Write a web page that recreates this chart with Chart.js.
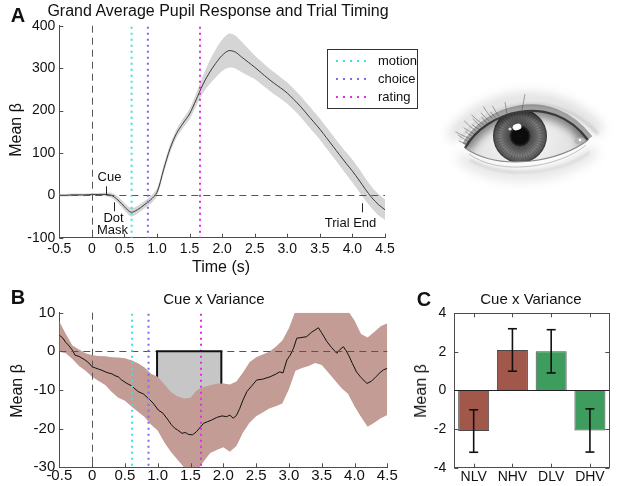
<!DOCTYPE html>
<html lang="en">
<head>
<meta charset="UTF-8" />
<title>Grand Average Pupil Response</title>
<script src="https://cdn.jsdelivr.net/npm/chart.js"></script>
<style>
  * { margin: 0; padding: 0; box-sizing: border-box; }
  body { background: #fff; font-family: 'Liberation Sans', Arial, sans-serif; color: #111; }
  #fig { position: relative; width: 617px; height: 486px; overflow: hidden; }
  canvas { position: absolute; }
  .t { position: absolute; transform: translate(-50%, -50%); white-space: nowrap; line-height: 1; }
  .rot { transform: translate(-50%, -50%) rotate(-90deg); }
  .tag { position: absolute; transform: translate(-50%, -50%); font-weight: bold; font-size: 20px; line-height: 1; }
</style>
</head>
<body>
<div id="fig">
  <canvas id="chartA" width="430" height="280" style="left:0;top:0"></canvas>
  <canvas id="chartB" width="400" height="206" style="left:0;top:280px"></canvas>
  <canvas id="chartC" width="217" height="206" style="left:400px;top:280px"></canvas>
  <canvas id="eye" width="187" height="170" style="left:430px;top:50px"></canvas>

  <div class="tag" style="left:18px;top:15px">A</div>
  <div class="tag" style="left:18px;top:297px">B</div>
  <div class="tag" style="left:424px;top:299px">C</div>

  <div class="t" style="left:218px;top:11px;font-size:16px">Grand Average Pupil Response and Trial Timing</div>
  <div class="t" style="left:214px;top:298px;font-size:15px">Cue x Variance</div>
  <div class="t" style="left:531px;top:298px;font-size:15px">Cue x Variance</div>

  <div class="t rot" style="left:16px;top:130px;font-size:16px">Mean β</div>
  <div class="t rot" style="left:17px;top:391px;font-size:16px">Mean β</div>
  <div class="t rot" style="left:421px;top:391px;font-size:16px">Mean β</div>
  <div class="t" style="left:221px;top:267px;font-size:16px">Time (s)</div>
</div>

<script>
  // ---- panel A: grand average pupil response ----
  const timeA = [-0.5, -0.4, -0.3, -0.2, -0.1, 0, 0.1, 0.2, 0.3, 0.4, 0.5, 0.6, 0.7, 0.8, 0.9, 1.0, 1.1, 1.2, 1.3, 1.4,
                 1.5, 1.6, 1.7, 1.8, 1.9, 2.0, 2.1, 2.2, 2.3, 2.4, 2.5, 2.6, 2.7, 2.8, 2.9, 3.0, 3.1, 3.2, 3.3, 3.4,
                 3.5, 3.6, 3.7, 3.8, 3.9, 4.0, 4.1, 4.2, 4.3, 4.4, 4.5];
  const meanA = [0, 0, 1, 1, 1, 2, 2, 2, 0, -11, -27, -40, -34, -23, -11, 7, 60, 110, 146, 170,
                 192, 225, 260, 288, 311, 330, 341, 338, 326, 314, 302, 289, 276, 264, 253, 241, 226, 210, 192, 174,
                 156, 136, 116, 96, 76, 57, 36, 14, -6, -22, -34];
  const semA = [3, 3, 3, 3, 3, 3, 3, 4, 6, 8, 9, 10, 9, 9, 9, 9, 10, 10, 10, 11,
                12, 15, 20, 27, 33, 37, 40, 39, 36, 32, 28, 27, 26, 26, 25, 25, 25, 25, 25, 25,
                25, 25, 25, 25, 26, 27, 27, 26, 25, 25, 24];

  // ---- panel B: cue x variance time course ----
  const timeB = [-0.5, -0.45, -0.4, -0.36, -0.3, -0.26, -0.2, -0.11, -0.05, 0, 0.05, 0.1, 0.15, 0.2, 0.25, 0.3, 0.35, 0.4, 0.45, 0.53,
                 0.6, 0.7, 0.78, 0.86, 0.93, 1.01, 1.08, 1.16, 1.21, 1.26, 1.3, 1.37, 1.42, 1.47, 1.53, 1.59, 1.64, 1.7, 1.76, 1.82,
                 1.9, 1.98, 2.05, 2.1, 2.15, 2.2, 2.25, 2.3, 2.36, 2.43, 2.51, 2.6, 2.71, 2.8, 2.86, 2.91, 2.97, 3.02, 3.07, 3.12,
                 3.2, 3.27, 3.35, 3.45, 3.5, 3.58, 3.65, 3.73, 3.78, 3.83, 3.87, 3.91, 3.97, 4.03, 4.1, 4.19, 4.26, 4.33, 4.39, 4.44, 4.5];
  const meanB = [4.2, 3.5, 2.3, 1.6, 0.3, -1.0, -1.3, -2.2, -3.0, -4.0, -4.3, -4.6, -4.9, -5.3, -5.6, -5.8, -6.3, -6.6, -7.4, -8.3,
                 -8.9, -10.4, -11.0, -12.2, -13.4, -15.2, -16.0, -17.8, -19.0, -19.9, -20.3, -21.2, -21.0, -21.5, -21.6, -20.8, -19.8, -18.6, -18.2, -17.8,
                 -17.1, -16.7, -16.9, -16.5, -17.3, -16.6, -14.8, -12.6, -10.4, -9.0, -7.4, -7.2, -6.6, -5.9, -5.3, -5.6, -2.2, -1.0, 0.8, 3.4,
                 3.6, 3.8, 5.0, 6.1, 4.8, 2.5, 1.0, -0.5, 0.5, 1.2, 0.2, -1.0, -3.2, -5.3, -6.8, -8.3, -7.7, -6.5, -5.5, -4.8, -4.4];
  const upperB = [7.7, 4.5, 1.5, 0.5, -0.5, -1.0, -1.2, -1.3, -1.5, -1.6, -1.8, -2.3, -3.1, -4.2, -5.8, -6.6, -8.5, -10.5, -11.6, -12.2,
                  -12.0, -10.0, -9.2, -8.8, -8.4, -8.3, -8.6, -7.8, -5.5, -2.8, -1.5, -0.8, -0.1, 1.2, 2.8, 6.0, 10.5, 12, 13, 14,
                  14, 13.5, 13, 12, 10.5, 8.0, 4.5, 3.6, 5.0, 6.5, 7.3];
  const lowerB = [-0.1, -0.5, -2.0, -3.8, -5.0, -6.6, -7.7, -8.7, -10.5, -12.0, -12.8, -14.3, -15.6, -17.0, -19.0, -20.5, -23.5, -26.0, -28.0, -30.0,
                  -31.5, -31.0, -28.5, -26.3, -25.5, -24.8, -26.0, -24.5, -21.0, -18.5, -16.8, -15.8, -14.8, -14.2, -13.5, -9.8, -5.0, -4.3, -3.8, -3.0,
                  -3.5, -5.5, -7.5, -9.5, -11.0, -14.2, -17.0, -19.5, -18.5, -17.3, -16.5];
  const sigWindow = [0.99, 1.97];
  const sigDepth = -15;

  // ---- trial events ----
  const eventNames = ['motion', 'choice', 'rating'];
  const eventTimes = [0.61, 0.86, 1.66];
  const eventColors = ['#3fe0e0', '#7b6fe8', '#e02ee0'];
  const markerNames = ['Cue', 'Dot Mask', 'Trial End'];
  const markerTimes = [0.22, 0.34, 4.14];

  // ---- panel C: condition means ----
  const condLabels = ['NLV', 'NHV', 'DLV', 'DHV'];
  const condMeans = [-2.1, 2.1, 2.03, -2.07];
  const condErr = [1.1, 1.1, 1.12, 1.12];
  const condColors = ['#a1574a', '#a1574a', '#3e9c5e', '#3e9c5e'];

  const AX = '#4d4d4d';
  Chart.defaults.font.family = "'Liberation Sans', Arial, sans-serif";
  Chart.defaults.color = '#111';

  function line(ctx, x1, y1, x2, y2) {
    ctx.beginPath(); ctx.moveTo(x1, y1); ctx.lineTo(x2, y2); ctx.stroke();
  }

  const figPlugin = {
    id: 'fig',
    beforeDatasetsDraw(chart, args, o) {
      const { ctx, scales: { x, y } } = chart;
      if (o.sig) {
        const x1 = x.getPixelForValue(sigWindow[0]), x2 = x.getPixelForValue(sigWindow[1]);
        const y0 = y.getPixelForValue(0), y1 = y.getPixelForValue(sigDepth);
        ctx.save();
        ctx.fillStyle = '#c6c6c6';
        ctx.fillRect(x1, y0, x2 - x1, y1 - y0);
        ctx.strokeStyle = '#111'; ctx.lineWidth = 2;
        line(ctx, x1, y0, x1, y1); line(ctx, x2, y0, x2, y1);
        ctx.restore();
      }
    },
    afterDatasetsDraw(chart, args, o) {
      const { ctx, chartArea: a, scales: { x, y } } = chart;
      ctx.save();
      // inside tick marks
      ctx.strokeStyle = AX; ctx.lineWidth = 1;
      x.ticks.forEach((t, i) => {
        const px = Math.round(x.getPixelForTick(i)) + 0.5;
        line(ctx, px, a.bottom, px, a.bottom - 4);
        if (o.box) line(ctx, px, a.top, px, a.top + 4);
      });
      y.ticks.forEach((t, i) => {
        const py = Math.round(y.getPixelForTick(i)) + 0.5;
        line(ctx, a.left, py, a.left + 4, py);
        if (o.box) line(ctx, a.right, py, a.right - 4, py);
      });
      if (o.box) {
        ctx.strokeRect(Math.round(a.left) + 0.5, Math.round(a.top) + 0.5, Math.round(a.right - a.left), Math.round(a.bottom - a.top));
        ctx.strokeStyle = '#222';
        const y0 = Math.round(y.getPixelForValue(0)) + 0.5;
        line(ctx, a.left, y0, a.right, y0);
      }
      if (o.zero) {
        ctx.strokeStyle = '#555'; ctx.lineWidth = 1; ctx.setLineDash([7, 5]);
        const y0 = Math.round(y.getPixelForValue(0)) + 0.5;
        const x0 = Math.round(x.getPixelForValue(0)) + 0.5;
        line(ctx, a.left, y0, a.right, y0);
        line(ctx, x0, a.top, x0, a.bottom);
        ctx.setLineDash([]);
      }
      if (o.events) {
        ctx.lineWidth = 2; ctx.setLineDash([2, 4]);
        eventTimes.forEach((t, i) => {
          const px = x.getPixelForValue(t);
          ctx.strokeStyle = eventColors[i];
          line(ctx, px, a.top + 1, px, a.bottom);
        });
        ctx.setLineDash([]);
      }
      if (o.sig) {
        const x1 = x.getPixelForValue(sigWindow[0]), x2 = x.getPixelForValue(sigWindow[1]);
        const y0 = y.getPixelForValue(0);
        ctx.strokeStyle = '#111'; ctx.lineWidth = 2;
        line(ctx, x1 - 1, y0, x2 + 1, y0);
      }
      if (o.markers) {
        const y0 = y.getPixelForValue(0);
        ctx.strokeStyle = '#222'; ctx.lineWidth = 1; ctx.fillStyle = '#111';
        ctx.font = "13px 'Liberation Sans', Arial, sans-serif";
        ctx.textAlign = 'center'; ctx.textBaseline = 'middle';
        const cx = Math.round(x.getPixelForValue(markerTimes[0])) + 0.5;
        line(ctx, cx, y0 - 9, cx, y0);
        ctx.fillText(markerNames[0], cx + 3, y0 - 18);
        const dx = Math.round(x.getPixelForValue(markerTimes[1])) + 0.5;
        line(ctx, dx, y0 + 7, dx, y0 + 16);
        const dm = markerNames[1].split(' ');
        ctx.fillText(dm[0], dx - 1, y0 + 23);
        ctx.fillText(dm[1], dx - 2, y0 + 35);
        const ex = Math.round(x.getPixelForValue(markerTimes[2])) + 0.5;
        line(ctx, ex, y0 + 8, ex, y0 + 17);
        ctx.fillText(markerNames[2], ex - 12, y0 + 28);
      }
      if (o.legend) {
        ctx.fillStyle = '#fff'; ctx.strokeStyle = '#333'; ctx.lineWidth = 1;
        ctx.fillRect(327.5, 49.5, 90, 59); ctx.strokeRect(327.5, 49.5, 90, 59);
        ctx.font = "13px 'Liberation Sans', Arial, sans-serif";
        ctx.textAlign = 'left'; ctx.textBaseline = 'middle';
        eventNames.forEach((n, i) => {
          const ly = 61 + i * 18;
          ctx.strokeStyle = eventColors[i]; ctx.lineWidth = 2; ctx.setLineDash([2, 5]);
          line(ctx, 336, ly, 370, ly);
          ctx.setLineDash([]);
          ctx.fillStyle = '#111';
          ctx.fillText(n, 378, ly);
        });
      }
      if (o.errors) {
        const meta = chart.getDatasetMeta(0);
        ctx.strokeStyle = '#111'; ctx.lineWidth = 1.6;
        condMeans.forEach((m, i) => {
          const px = meta.data[i].x;
          const yt = y.getPixelForValue(m + condErr[i]), yb = y.getPixelForValue(m - condErr[i]);
          line(ctx, px, yt, px, yb);
          line(ctx, px - 4.5, yt, px + 4.5, yt);
          line(ctx, px - 4.5, yb, px + 4.5, yb);
        });
      }
      ctx.restore();
    }
  };

  const base = (padding) => ({
    responsive: false, animation: false, events: [],
    layout: { padding },
    plugins: { legend: { display: false }, tooltip: { enabled: false } }
  });

  // Panel A  (mean first so it is drawn on top of the band)
  const optA = base({ left: 0, top: 25.7, right: 45, bottom: 0 });
  optA.plugins.fig = { zero: true, events: true, markers: true, legend: true };
  optA.scales = {
    x: { type: 'linear', min: -0.5, max: 4.5, grid: { display: false, drawTicks: false }, border: { color: AX },
         ticks: { stepSize: 0.5, padding: 3, font: { size: 14 }, maxRotation: 0, autoSkip: false },
         afterFit: s => { s.height = 42.3; } },
    y: { min: -100, max: 400, grid: { display: false, drawTicks: false }, border: { color: AX },
         ticks: { stepSize: 100, padding: 4, font: { size: 14 } },
         afterFit: s => { s.width = 59.3; } }
  };
  new Chart(document.getElementById('chartA'), {
    type: 'line',
    data: { datasets: [
      { data: timeA.map((t, i) => ({ x: t, y: meanA[i] })), borderColor: '#3a3a3a', borderWidth: 1, pointRadius: 0, tension: 0.3, fill: false },
      { data: timeA.map((t, i) => ({ x: t, y: meanA[i] + semA[i] })), borderWidth: 0, pointRadius: 0, tension: 0.3,
        fill: '+1', backgroundColor: '#d5d5d5' },
      { data: timeA.map((t, i) => ({ x: t, y: meanA[i] - semA[i] })), borderWidth: 0, pointRadius: 0, tension: 0.3, fill: false }
    ] },
    options: optA,
    plugins: [figPlugin]
  });

  // Panel B
  const optB = base({ left: 0, top: 32.7, right: 12.7, bottom: 0 });
  optB.plugins.fig = { zero: true, events: true, sig: true };
  optB.scales = {
    x: { type: 'linear', min: -0.5, max: 4.5, grid: { display: false, drawTicks: false }, border: { color: AX },
         ticks: { stepSize: 0.5, padding: 0, font: { size: 15 }, maxRotation: 0, autoSkip: false },
         afterFit: s => { s.height = 18.7; } },
    y: { min: -30, max: 10, grid: { display: false, drawTicks: false }, border: { color: AX },
         ticks: { stepSize: 10, padding: 4, font: { size: 15 } },
         afterFit: s => { s.width = 59.3; } }
  };
  new Chart(document.getElementById('chartB'), {
    type: 'line',
    data: { datasets: [
      { data: timeB.map((t, i) => ({ x: t, y: meanB[i] })), borderColor: '#111', borderWidth: 1, pointRadius: 0, fill: false },
      { data: timeA.map((t, i) => ({ x: t, y: upperB[i] })), borderWidth: 0, pointRadius: 0, fill: '+1', backgroundColor: '#c29c95' },
      { data: timeA.map((t, i) => ({ x: t, y: lowerB[i] })), borderWidth: 0, pointRadius: 0, fill: false }
    ] },
    options: optB,
    plugins: [figPlugin]
  });

  // Panel C
  const optC = base({ left: 0, top: 33.3, right: 7.7, bottom: 0 });
  optC.plugins.fig = { box: true, errors: true };
  optC.scales = {
    x: { grid: { display: false, drawTicks: false }, border: { color: AX },
         ticks: { padding: 1, font: { size: 14 } },
         afterFit: s => { s.height = 18.3; } },
    y: { min: -4, max: 4, grid: { display: false, drawTicks: false }, border: { color: AX },
         ticks: { stepSize: 2, padding: 8, font: { size: 14 } },
         afterFit: s => { s.width = 54.3; } }
  };
  new Chart(document.getElementById('chartC'), {
    type: 'bar',
    data: { labels: condLabels, datasets: [
      { data: condMeans, backgroundColor: condColors, borderColor: '#4a4a4a', borderWidth: 1,
        barPercentage: 0.8, categoryPercentage: 1.0 }
    ] },
    options: optC,
    plugins: [figPlugin]
  });

  // pencil-style eye illustration
  function drawEye() {
    const g = document.getElementById('eye').getContext('2d');
    const P0 = [35, 98], U1 = [55, 62], U2 = [120, 40], P3 = [158, 90], L1 = [130, 112], L2 = [70, 122];
    const bez = (p0, p1, p2, p3, t) => {
      const u = 1 - t;
      return [u*u*u*p0[0] + 3*u*u*t*p1[0] + 3*u*t*t*p2[0] + t*t*t*p3[0],
              u*u*u*p0[1] + 3*u*u*t*p1[1] + 3*u*t*t*p2[1] + t*t*t*p3[1]];
    };
    const opening = () => {
      g.beginPath();
      g.moveTo(P0[0], P0[1]);
      g.bezierCurveTo(U1[0], U1[1], U2[0], U2[1], P3[0], P3[1]);
      g.bezierCurveTo(L1[0], L1[1], L2[0], L2[1], P0[0], P0[1]);
      g.closePath();
    };
    // soft shading around the socket
    g.save();
    g.filter = 'blur(6px)';
    g.strokeStyle = 'rgba(0,0,0,0.14)'; g.lineWidth = 12;
    g.beginPath(); g.moveTo(22, 88); g.bezierCurveTo(50, 45, 125, 30, 170, 82); g.stroke();
    g.strokeStyle = 'rgba(0,0,0,0.12)'; g.lineWidth = 10;
    g.beginPath(); g.moveTo(30, 106); g.bezierCurveTo(70, 136, 130, 128, 165, 100); g.stroke();
    g.restore();
    g.save();
    g.filter = 'blur(1.5px)';
    g.strokeStyle = 'rgba(0,0,0,0.2)'; g.lineWidth = 2;
    g.beginPath(); g.moveTo(30, 90); g.bezierCurveTo(55, 52, 125, 36, 168, 84); g.stroke();
    g.strokeStyle = 'rgba(0,0,0,0.16)'; g.lineWidth = 1.5;
    g.beginPath(); g.moveTo(40, 110); g.bezierCurveTo(75, 130, 130, 124, 160, 102); g.stroke();
    g.restore();
    // sclera
    opening();
    const sg = g.createRadialGradient(92, 88, 10, 92, 88, 75);
    sg.addColorStop(0, '#f4f4f4'); sg.addColorStop(0.6, '#e2e2e2'); sg.addColorStop(1, '#a0a0a0');
    g.fillStyle = sg; g.fill();
    g.save();
    opening(); g.clip();
    // iris
    const ig = g.createRadialGradient(90, 86, 2, 90, 86, 27);
    ig.addColorStop(0, '#111'); ig.addColorStop(0.3, '#1e1e1e'); ig.addColorStop(0.36, '#4e4e4e');
    ig.addColorStop(0.7, '#7c7c7c'); ig.addColorStop(0.92, '#555'); ig.addColorStop(1, '#2e2e2e');
    g.fillStyle = ig;
    g.beginPath(); g.arc(90, 86, 27, 0, Math.PI * 2); g.fill();
    g.strokeStyle = 'rgba(40,40,40,0.3)'; g.lineWidth = 0.8;
    for (let k = 0; k < 48; k++) {
      const ang = k * Math.PI / 24, r1 = 10 + (k % 3) * 1.5, r2 = 22 + (k % 4) * 1.2;
      line(g, 90 + r1 * Math.cos(ang), 86 + r1 * Math.sin(ang), 90 + r2 * Math.cos(ang), 86 + r2 * Math.sin(ang));
    }
    g.fillStyle = '#0c0c0c';
    g.beginPath(); g.arc(90, 86, 8.5, 0, Math.PI * 2); g.fill();
    // lid shadow over the eyeball
    g.filter = 'blur(4px)';
    g.strokeStyle = 'rgba(0,0,0,0.45)'; g.lineWidth = 12;
    g.beginPath(); g.moveTo(P0[0], P0[1]); g.bezierCurveTo(U1[0], U1[1], U2[0], U2[1], P3[0], P3[1]); g.stroke();
    g.filter = 'none';
    // highlights
    g.fillStyle = '#fff';
    g.beginPath(); g.ellipse(87, 77, 4.5, 3.2, -0.3, 0, Math.PI * 2); g.fill();
    g.fillStyle = 'rgba(255,255,255,0.8)';
    g.beginPath(); g.arc(80, 79, 1.6, 0, Math.PI * 2); g.fill();
    g.restore();
    // caruncle
    g.fillStyle = '#b4b4b4';
    g.beginPath(); g.ellipse(150, 91, 5.5, 3.5, 0, 0, Math.PI * 2); g.fill();
    g.fillStyle = '#fff';
    g.beginPath(); g.arc(150, 90, 1.3, 0, Math.PI * 2); g.fill();
    // lid margins
    g.strokeStyle = 'rgba(60,60,60,0.45)'; g.lineWidth = 6;
    g.beginPath(); g.moveTo(P0[0], P0[1] - 3); g.bezierCurveTo(U1[0], U1[1] - 4, U2[0], U2[1] - 4, P3[0] + 2, P3[1] - 2); g.stroke();
    g.strokeStyle = '#3a3a3a'; g.lineWidth = 2.2;
    g.beginPath(); g.moveTo(P0[0], P0[1]); g.bezierCurveTo(U1[0], U1[1], U2[0], U2[1], P3[0], P3[1]); g.stroke();
    g.strokeStyle = '#8a8a8a'; g.lineWidth = 1.2;
    g.beginPath(); g.moveTo(P3[0], P3[1]); g.bezierCurveTo(L1[0], L1[1], L2[0], L2[1], P0[0], P0[1]); g.stroke();
    g.strokeStyle = 'rgba(140,140,140,0.5)'; g.lineWidth = 1;
    g.beginPath(); g.moveTo(P3[0] - 2, P3[1] + 5); g.bezierCurveTo(L1[0], L1[1] + 5, L2[0], L2[1] + 5, P0[0] + 4, P0[1] + 6); g.stroke();
    // lashes, mostly on the outer (left) part of the upper lid
    g.strokeStyle = 'rgba(60,60,60,0.55)'; g.lineWidth = 0.8;
    for (let k = 0; k < 14; k++) {
      const t = 0.02 + k * 0.025;
      const p = bez(P0, U1, U2, P3, t);
      const len = 8 + (k % 3) * 4;
      const ang = Math.PI + 0.35 + t * 1.5 + (k % 2) * 0.15;
      g.beginPath(); g.moveTo(p[0], p[1] - 2);
      g.quadraticCurveTo(p[0] + Math.cos(ang) * len * 0.6, p[1] - 2 + Math.sin(ang) * len * 0.5,
                         p[0] + Math.cos(ang) * len, p[1] - 2 + Math.sin(ang) * len);
      g.stroke();
    }
    g.beginPath(); g.moveTo(92, 60); g.lineTo(95, 44); g.stroke();
    g.beginPath(); g.moveTo(77, 64); g.lineTo(75, 52); g.stroke();
  }
  drawEye();
</script>
</body>
</html>
